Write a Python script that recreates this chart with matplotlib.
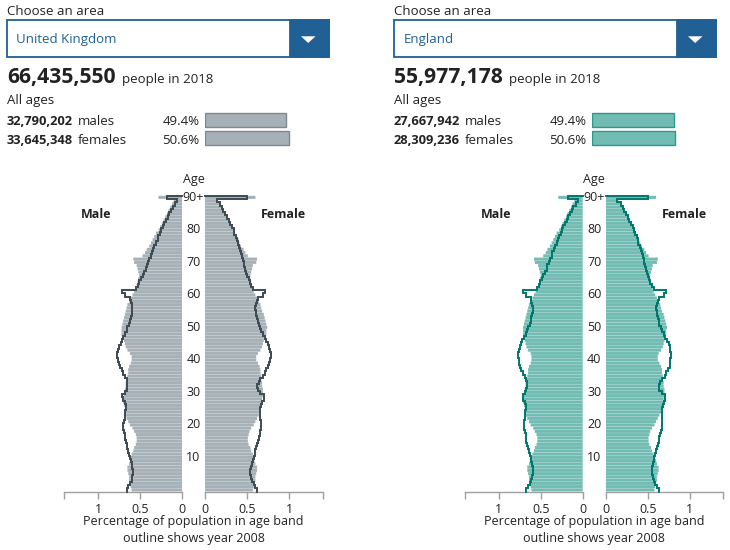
import numpy as np
import matplotlib.pyplot as plt
import matplotlib.transforms as mtransforms
from matplotlib.patches import Rectangle, Polygon

plt.rcParams['font.family'] = ['Open Sans', 'DejaVu Sans']

# ---- data ----
areas = ['United Kingdom', 'England']
totals = [66435550, 55977178]
males = [32790202, 27667942]
females = [33645348, 28309236]

ages = np.arange(91)          # 90 = 90+
age_ticks = [10, 20, 30, 40, 50, 60, 70, 80, 90]
age_tick_labels = ['10', '20', '30', '40', '50', '60', '70', '80', '90+']
pct_ticks = [0, 0.5, 1, 1.4]
pct_tick_labels = ['0', '0.5', '1', '']

# % of population, single year of age, UK
uk_male_2018 = [
    0.60, 0.61, 0.62, 0.63, 0.63, 0.64, 0.65, 0.65, 0.63, 0.62,
    0.61, 0.60, 0.58, 0.57, 0.55, 0.54, 0.54, 0.55, 0.57, 0.59,
    0.62, 0.64, 0.66, 0.67, 0.68, 0.68, 0.69, 0.70, 0.69, 0.69,
    0.69, 0.68, 0.67, 0.67, 0.66, 0.65, 0.64, 0.64, 0.63, 0.61,
    0.60, 0.60, 0.62, 0.65, 0.67, 0.68, 0.69, 0.71, 0.72, 0.72,
    0.72, 0.71, 0.70, 0.69, 0.68, 0.67, 0.66, 0.65, 0.63, 0.61,
    0.59, 0.57, 0.55, 0.54, 0.53, 0.52, 0.51, 0.52, 0.53, 0.54,
    0.57, 0.58, 0.47, 0.44, 0.42, 0.39, 0.37, 0.35, 0.33, 0.31,
    0.28, 0.26, 0.24, 0.22, 0.20, 0.18, 0.16, 0.14, 0.12, 0.10,
    0.28]
uk_male_2008 = [
    0.66, 0.64, 0.62, 0.60, 0.59, 0.58, 0.58, 0.59, 0.60, 0.61,
    0.62, 0.63, 0.64, 0.65, 0.66, 0.67, 0.68, 0.68, 0.69, 0.70,
    0.70, 0.69, 0.68, 0.68, 0.68, 0.67, 0.67, 0.68, 0.70, 0.71,
    0.68, 0.66, 0.65, 0.65, 0.66, 0.68, 0.70, 0.72, 0.74, 0.75,
    0.76, 0.77, 0.77, 0.76, 0.75, 0.73, 0.72, 0.70, 0.68, 0.66,
    0.65, 0.63, 0.62, 0.61, 0.60, 0.59, 0.59, 0.60, 0.61, 0.62,
    0.68, 0.71, 0.55, 0.52, 0.51, 0.49, 0.47, 0.45, 0.43, 0.42,
    0.40, 0.39, 0.37, 0.36, 0.34, 0.33, 0.31, 0.29, 0.28, 0.26,
    0.25, 0.23, 0.21, 0.19, 0.17, 0.15, 0.13, 0.11, 0.08, 0.06,
    0.18]
uk_female_2018 = [
    0.57, 0.58, 0.59, 0.60, 0.60, 0.61, 0.62, 0.62, 0.60, 0.59,
    0.58, 0.57, 0.55, 0.54, 0.52, 0.51, 0.51, 0.52, 0.53, 0.55,
    0.58, 0.60, 0.62, 0.64, 0.65, 0.66, 0.67, 0.68, 0.68, 0.69,
    0.69, 0.69, 0.68, 0.68, 0.67, 0.67, 0.66, 0.66, 0.65, 0.63,
    0.61, 0.61, 0.63, 0.66, 0.68, 0.69, 0.70, 0.72, 0.73, 0.73,
    0.74, 0.73, 0.72, 0.71, 0.70, 0.68, 0.67, 0.66, 0.64, 0.62,
    0.60, 0.58, 0.57, 0.56, 0.55, 0.54, 0.54, 0.55, 0.56, 0.57,
    0.61, 0.62, 0.51, 0.48, 0.46, 0.43, 0.41, 0.40, 0.38, 0.36,
    0.34, 0.32, 0.30, 0.28, 0.26, 0.24, 0.22, 0.20, 0.17, 0.15,
    0.60]
uk_female_2008 = [
    0.62, 0.60, 0.58, 0.56, 0.55, 0.54, 0.54, 0.55, 0.56, 0.57,
    0.58, 0.59, 0.60, 0.61, 0.62, 0.63, 0.64, 0.65, 0.66, 0.67,
    0.67, 0.67, 0.66, 0.66, 0.66, 0.66, 0.67, 0.68, 0.70, 0.70,
    0.66, 0.63, 0.62, 0.64, 0.66, 0.69, 0.71, 0.73, 0.75, 0.76,
    0.77, 0.78, 0.78, 0.77, 0.76, 0.75, 0.73, 0.71, 0.69, 0.67,
    0.66, 0.64, 0.63, 0.62, 0.61, 0.61, 0.60, 0.61, 0.62, 0.63,
    0.69, 0.72, 0.57, 0.55, 0.53, 0.52, 0.50, 0.49, 0.48, 0.47,
    0.46, 0.45, 0.44, 0.43, 0.42, 0.41, 0.39, 0.38, 0.37, 0.35,
    0.34, 0.32, 0.30, 0.28, 0.26, 0.24, 0.22, 0.20, 0.18, 0.14,
    0.50]

# England
en_male_2018 = [
    0.61, 0.62, 0.63, 0.64, 0.64, 0.65, 0.66, 0.66, 0.64, 0.63,
    0.61, 0.60, 0.58, 0.57, 0.55, 0.54, 0.54, 0.55, 0.57, 0.59,
    0.62, 0.64, 0.66, 0.68, 0.69, 0.69, 0.70, 0.71, 0.70, 0.70,
    0.70, 0.69, 0.68, 0.68, 0.67, 0.66, 0.65, 0.65, 0.64, 0.62,
    0.61, 0.61, 0.62, 0.65, 0.67, 0.68, 0.69, 0.71, 0.71, 0.71,
    0.71, 0.70, 0.69, 0.68, 0.67, 0.66, 0.65, 0.64, 0.62, 0.60,
    0.58, 0.56, 0.54, 0.53, 0.52, 0.51, 0.50, 0.51, 0.52, 0.53,
    0.57, 0.58, 0.47, 0.44, 0.42, 0.39, 0.37, 0.35, 0.33, 0.31,
    0.28, 0.26, 0.24, 0.22, 0.20, 0.18, 0.16, 0.14, 0.12, 0.10,
    0.29]
en_male_2008 = [
    0.67, 0.65, 0.63, 0.61, 0.60, 0.59, 0.59, 0.59, 0.60, 0.61,
    0.62, 0.63, 0.64, 0.65, 0.66, 0.67, 0.68, 0.68, 0.69, 0.70,
    0.70, 0.70, 0.69, 0.69, 0.69, 0.68, 0.68, 0.69, 0.71, 0.71,
    0.69, 0.67, 0.66, 0.66, 0.67, 0.69, 0.71, 0.73, 0.75, 0.76,
    0.76, 0.77, 0.77, 0.76, 0.75, 0.73, 0.72, 0.70, 0.68, 0.66,
    0.65, 0.63, 0.62, 0.61, 0.60, 0.59, 0.59, 0.60, 0.61, 0.62,
    0.68, 0.71, 0.55, 0.52, 0.51, 0.49, 0.47, 0.45, 0.43, 0.42,
    0.40, 0.39, 0.37, 0.36, 0.34, 0.33, 0.31, 0.29, 0.28, 0.26,
    0.25, 0.23, 0.21, 0.19, 0.17, 0.15, 0.13, 0.11, 0.08, 0.06,
    0.18]
en_female_2018 = [
    0.58, 0.59, 0.60, 0.61, 0.61, 0.62, 0.63, 0.63, 0.61, 0.60,
    0.58, 0.57, 0.55, 0.54, 0.52, 0.51, 0.51, 0.52, 0.53, 0.55,
    0.58, 0.60, 0.62, 0.64, 0.66, 0.67, 0.68, 0.69, 0.69, 0.70,
    0.70, 0.70, 0.69, 0.69, 0.68, 0.68, 0.67, 0.67, 0.66, 0.64,
    0.62, 0.62, 0.63, 0.66, 0.68, 0.69, 0.70, 0.71, 0.72, 0.72,
    0.73, 0.72, 0.71, 0.70, 0.69, 0.67, 0.66, 0.65, 0.63, 0.61,
    0.59, 0.57, 0.56, 0.55, 0.54, 0.53, 0.53, 0.54, 0.55, 0.56,
    0.61, 0.62, 0.51, 0.48, 0.46, 0.43, 0.41, 0.40, 0.38, 0.36,
    0.34, 0.32, 0.30, 0.28, 0.26, 0.24, 0.22, 0.20, 0.17, 0.15,
    0.60]
en_female_2008 = [
    0.63, 0.61, 0.59, 0.57, 0.56, 0.55, 0.55, 0.55, 0.56, 0.57,
    0.58, 0.59, 0.60, 0.61, 0.62, 0.63, 0.64, 0.65, 0.66, 0.67,
    0.67, 0.67, 0.67, 0.67, 0.67, 0.67, 0.68, 0.69, 0.71, 0.71,
    0.67, 0.64, 0.63, 0.65, 0.67, 0.70, 0.72, 0.74, 0.76, 0.76,
    0.77, 0.78, 0.78, 0.77, 0.76, 0.75, 0.73, 0.71, 0.69, 0.67,
    0.66, 0.64, 0.63, 0.62, 0.61, 0.61, 0.60, 0.61, 0.62, 0.63,
    0.69, 0.72, 0.57, 0.55, 0.53, 0.52, 0.50, 0.49, 0.48, 0.47,
    0.46, 0.45, 0.44, 0.43, 0.42, 0.41, 0.39, 0.38, 0.37, 0.35,
    0.34, 0.32, 0.30, 0.28, 0.26, 0.24, 0.22, 0.20, 0.18, 0.14,
    0.50]

# ---- style ----
TXT = '#222222'
BLUE = '#206095'
AXIS = '#a0a0a0'
W, H = 730, 550
PX_AGE = 3.25     # px per year of age
PX_PCT = 84.0     # px per 1 percent
FS = 9.5          # body text
FS_P = 9          # pyramid labels


def fx(px):
    return px / W


def fy(py):
    return 1 - py / H


fig = plt.figure(figsize=(W / 100, H / 100), dpi=100)


def outline(ax, vals, color):
    xs, ys = [], []
    for a, v in zip(ages, vals):
        xs += [v, v]
        ys += [a - 0.5, a + 0.5]
    xs.append(0)
    ys.append(ages[-1] + 0.5)
    ax.plot(xs, ys, color=color, lw=1.4, solid_joinstyle='miter', clip_on=False, zorder=3)


def style_axis(ax, inverted):
    for s in ['left', 'top', 'right']:
        ax.spines[s].set_visible(False)
    ax.spines['bottom'].set_color(AXIS)
    ax.spines['bottom'].set_linewidth(1)
    ax.set_yticks([])
    ax.set_xticks(pct_ticks)
    ax.set_xticklabels(pct_tick_labels)
    ax.tick_params(axis='x', colors=AXIS, length=5, width=1, pad=3, labelsize=FS_P, labelcolor=TXT)
    ax.set_xlim((1.4, 0) if inverted else (0, 1.4))
    ax.set_ylim(-0.5, 92)
    ax.patch.set_alpha(0)


def panel(hx, cx, area, total, nm, nf, m18, f18, m08, f08, fill, edge, line):
    # header
    fig.text(fx(hx), fy(15), 'Choose an area', fontsize=FS, color=TXT)
    fig.add_artist(Rectangle((fx(hx), fy(56.5)), 321.5 / W, 36.5 / H, transform=fig.transFigure,
                             fill=False, edgecolor=BLUE, lw=1.3))
    fig.add_artist(Rectangle((fx(hx + 283.3), fy(56.5)), 38.2 / W, 36.5 / H, transform=fig.transFigure,
                             facecolor=BLUE, edgecolor=BLUE, lw=1.3))
    fig.add_artist(Polygon([(fx(hx + 294), fy(36.3)), (fx(hx + 308.5), fy(36.3)), (fx(hx + 301.2), fy(43))],
                           closed=True, transform=fig.transFigure, facecolor='white', edgecolor='none'))
    fig.text(fx(hx + 9.5), fy(43), area, fontsize=FS, color=BLUE)
    fig.text(fx(hx), fy(83), f'{total:,}', fontsize=15.2, weight='bold', color=TXT)
    fig.text(fx(hx + 114.5), fy(83), 'people in 2018', fontsize=FS, color=TXT)
    fig.text(fx(hx), fy(104), 'All ages', fontsize=FS, color=TXT)
    fig.text(fx(hx), fy(125), f'{nm:,}', fontsize=9.3, weight='bold', color=TXT)
    fig.text(fx(hx + 71), fy(125), 'males', fontsize=FS, color=TXT)
    fig.text(fx(hx), fy(143.5), f'{nf:,}', fontsize=9.3, weight='bold', color=TXT)
    fig.text(fx(hx + 71), fy(143.5), 'females', fontsize=FS, color=TXT)
    shares = [nm / total * 100, nf / total * 100]
    fig.text(fx(hx + 192.5), fy(125), f'{shares[0]:.1f}%', fontsize=FS, color=TXT, ha='right')
    fig.text(fx(hx + 192.5), fy(143.5), f'{shares[1]:.1f}%', fontsize=FS, color=TXT, ha='right')

    sax = fig.add_axes([fx(hx + 197.5), fy(147), 166 / W, 36 / H])
    sax.barh([0, 1], shares, height=0.81, color=fill, edgecolor=edge, lw=1)
    sax.set_xlim(0, 100)
    sax.set_ylim(1.5, -0.5)
    sax.axis('off')

    # pyramid
    bottom = fy(491.5)
    height = 92.5 * PX_AGE / H
    wpx = 1.4 * PX_PCT
    axm = fig.add_axes([fx(cx - 11.5 - wpx), bottom, wpx / W, height])
    axf = fig.add_axes([fx(cx + 11.5), bottom, wpx / W, height])
    axm.barh(ages, m18, height=0.95, color=fill, linewidth=0, snap=False)
    axf.barh(ages, f18, height=0.95, color=fill, linewidth=0, snap=False)
    outline(axm, m08, line)
    outline(axf, f08, line)
    style_axis(axm, True)
    style_axis(axf, False)

    tr = mtransforms.blended_transform_factory(fig.transFigure, axm.transData)
    for t, lab in zip(age_ticks, age_tick_labels):
        fig.text(fx(cx), t, lab, transform=tr, ha='center', va='center', fontsize=FS_P, color=TXT)
    fig.text(fx(cx), fy(180), 'Age', ha='center', va='center', fontsize=FS_P, color=TXT)
    fig.text(fx(cx - 97.7), fy(215), 'Male', ha='center', va='center', fontsize=FS_P,
             weight='bold', color=TXT)
    fig.text(fx(cx + 90.2), fy(215), 'Female', ha='center', va='center', fontsize=FS_P,
             weight='bold', color=TXT)
    fig.text(fx(cx), fy(521), 'Percentage of population in age band', ha='center', va='center',
             fontsize=FS_P, color=TXT)
    fig.text(fx(cx), fy(538.5), 'outline shows year 2008', ha='center', va='center',
             fontsize=FS_P, color=TXT)


panel(7, 193.5, areas[0], totals[0], males[0], females[0],
      uk_male_2018, uk_female_2018, uk_male_2008, uk_female_2008,
      '#a6b1b7', '#7d8990', '#3e4b52')
panel(394, 594.2, areas[1], totals[1], males[1], females[1],
      en_male_2018, en_female_2018, en_male_2008, en_female_2008,
      '#72bcb3', '#2a9a8e', '#00776c')

fig.savefig('out.png', dpi=100)
